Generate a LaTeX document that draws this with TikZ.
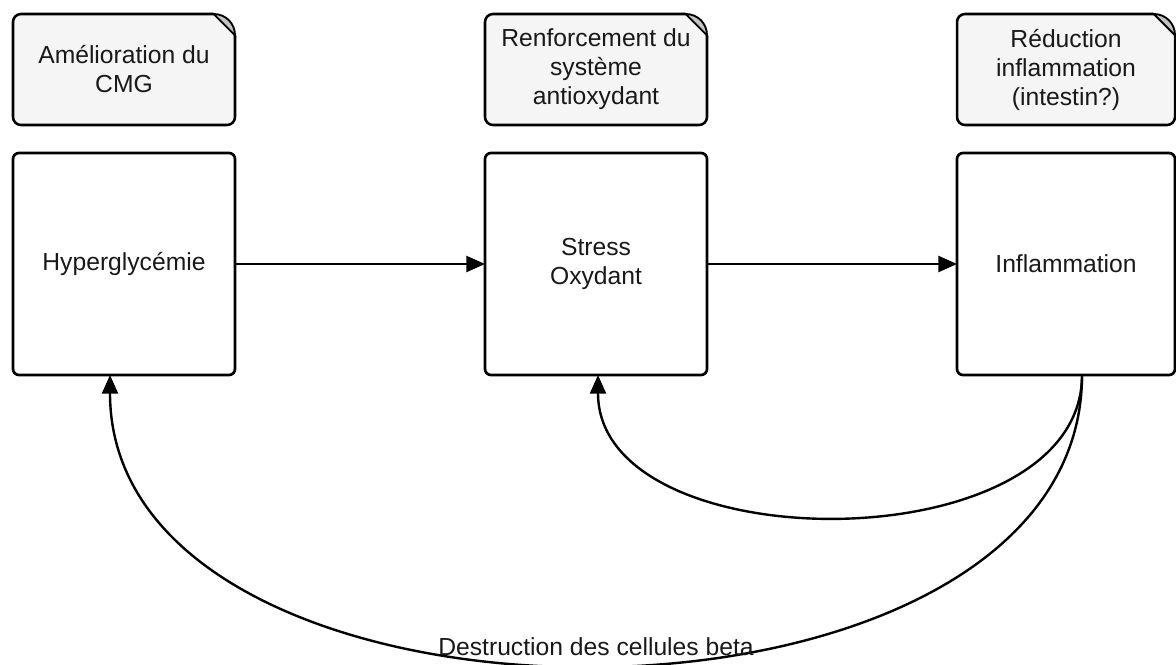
\documentclass[tikz,border=0pt]{standalone}
\usepackage{fontspec}
\setmainfont{Liberation Sans}
\usetikzlibrary{arrows.meta,positioning}
\definecolor{notegray}{RGB}{245,245,245}
\definecolor{foldgray}{RGB}{195,195,195}
\definecolor{inkgray}{RGB}{25,25,25}

\begin{document}
\begin{tikzpicture}[
  x=0.75pt, y=-0.75pt,
  node distance=21pt and 187.5pt,
  every node/.style={font=\fontsize{18.5pt}{21.75pt}\selectfont, text=inkgray},
  note/.style={draw, fill=notegray, rounded corners=6pt, line width=1.9pt, outer sep=0pt, align=center, minimum width=166.5pt, minimum height=83.25pt},
  box/.style={draw, fill=white, rounded corners=4.5pt, line width=2pt, outer sep=0pt, align=center, minimum width=166.5pt, minimum height=166.5pt},
  fold/.style={draw, fill=foldgray, line width=1.4pt},
  arr/.style={-{Triangle[length=14pt,width=12pt]}, line width=1.8pt}
]
\useasboundingbox (0,0) rectangle (1176,664);
\node[box] (n4) at (124,264) {Hyperglycémie};
\node[box, right=of n4] (n5) {Stress\\Oxydant};
\node[box, right=of n5, minimum width=163.5pt] (n6) {Inflammation};
\node[note, above=of n4] (n1) {Amélioration du\\CMG};
\node[note, above=of n5] (n2) {Renforcement du\\système\\antioxydant};
\node[note, above=of n6, minimum width=163.5pt] (n3) {Réduction\\inflammation\\(intestin?)};
% dog-ear corners of the notes
\foreach \n in {n1,n2,n3} {
  \fill[white] ([shift={(-17pt,2pt)}]\n.north east) -- ([shift={(2pt,2pt)}]\n.north east) -- ([shift={(2pt,-17pt)}]\n.north east) -- cycle;
  \draw[fold] ([xshift=-16pt]\n.north east) .. controls ([xshift=-7pt]\n.north east) and ([yshift=-7pt]\n.north east) .. ([yshift=-16pt]\n.north east) -- cycle;
}
\draw[arr] (n4) -- (n5);
\draw[arr] (n5) -- (n6);
\draw[arr] ([xshift=12pt]n6.south) to[out=-90, in=-90] ([xshift=1.5pt]n5.south);
\draw[arr] ([xshift=12pt]n6.south) to[out=-90, in=-90, looseness=1.02] node[midway, yshift=13.5pt] (n7) {Destruction des cellules beta} ([xshift=-10.5pt]n4.south);
\end{tikzpicture}
\end{document}
